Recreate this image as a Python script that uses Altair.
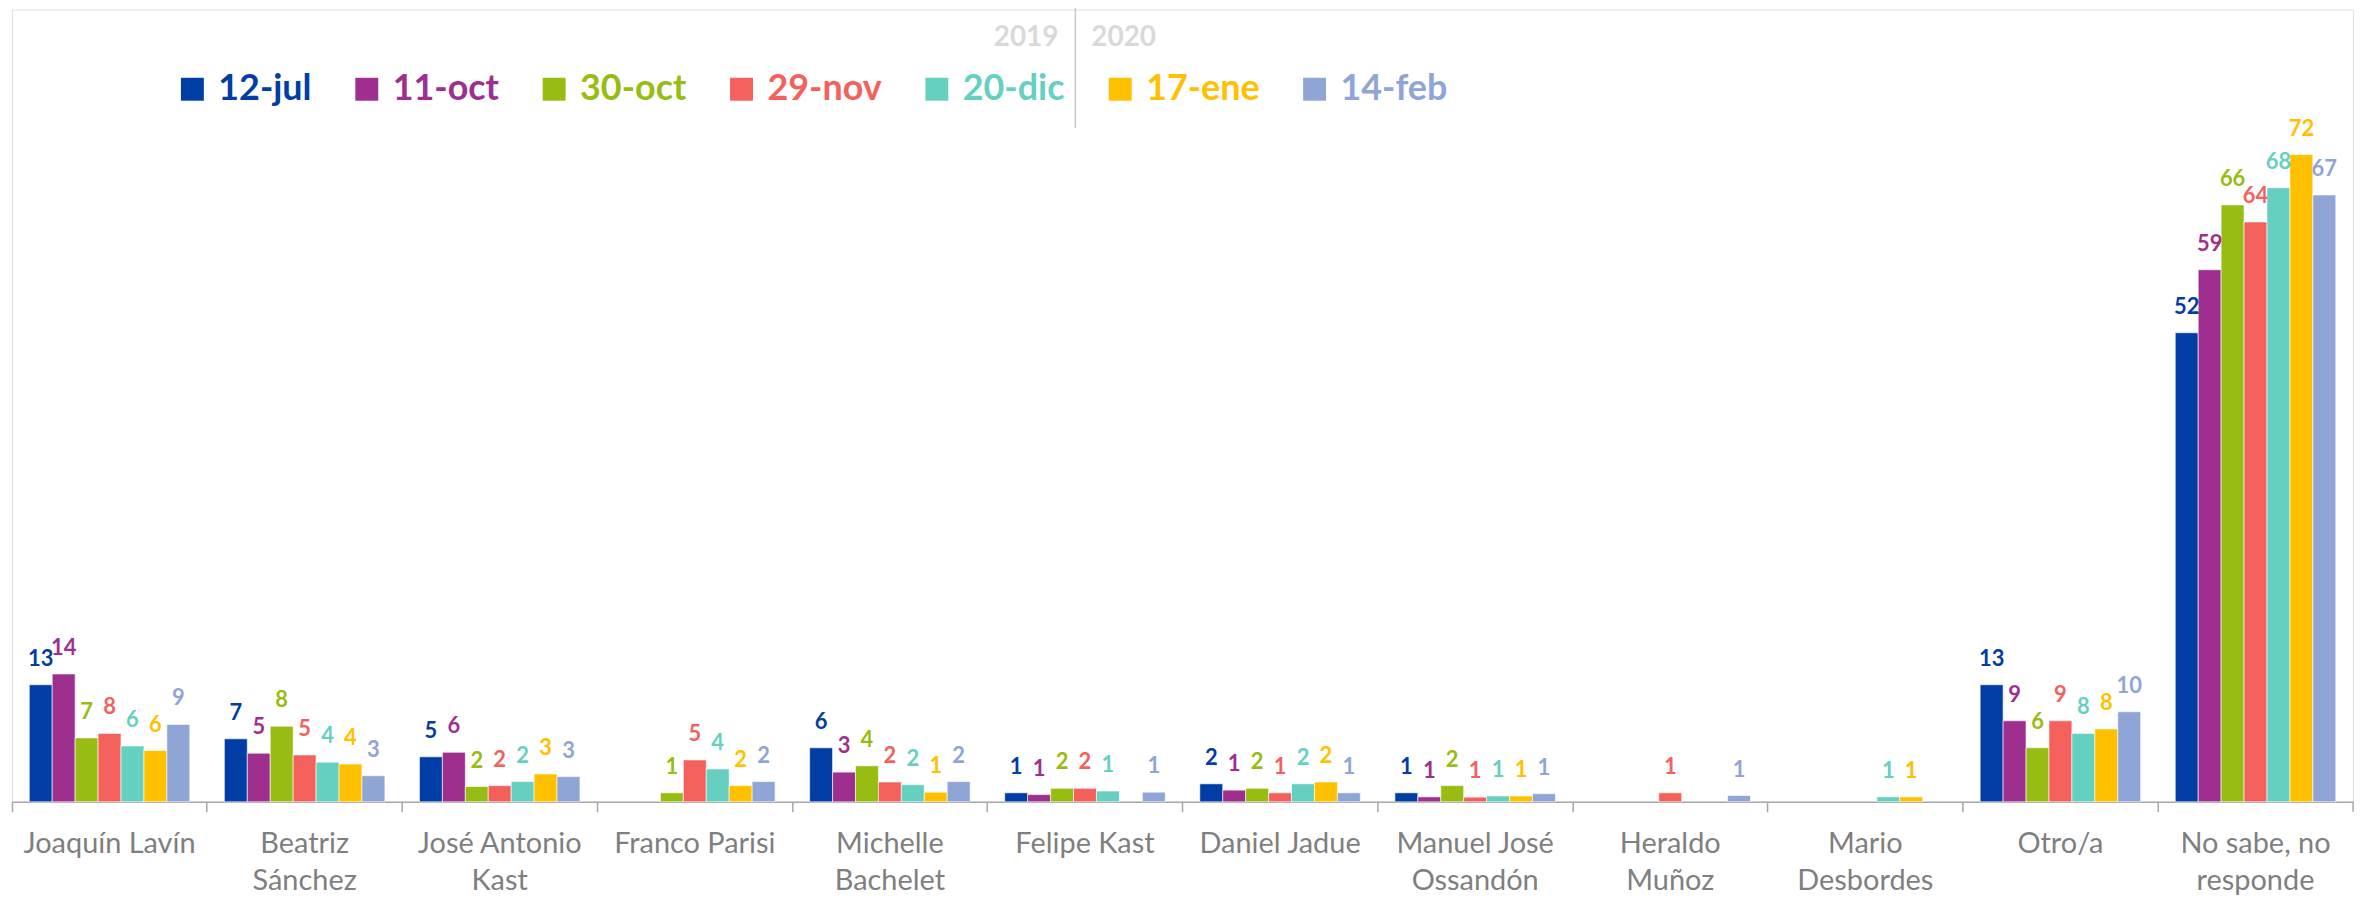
import json
import altair as alt
import pandas as pd

series = ["12-jul", "11-oct", "30-oct", "29-nov", "20-dic", "17-ene", "14-feb"]
colors = ["#003DA5", "#9E2F8E", "#97BC12", "#F4615D", "#66D0C0", "#FFC000", "#8FA5D6"]
categories = ["Joaquín Lavín", "Beatriz Sánchez", "José Antonio Kast", "Franco Parisi",
              "Michelle Bachelet", "Felipe Kast", "Daniel Jadue", "Manuel José Ossandón",
              "Heraldo Muñoz", "Mario Desbordes", "Otro/a", "No sabe, no responde"]
label_lines = {
    "Beatriz Sánchez": ["Beatriz", "Sánchez"],
    "José Antonio Kast": ["José Antonio", "Kast"],
    "Michelle Bachelet": ["Michelle", "Bachelet"],
    "Manuel José Ossandón": ["Manuel José", "Ossandón"],
    "Heraldo Muñoz": ["Heraldo", "Muñoz"],
    "Mario Desbordes": ["Mario", "Desbordes"],
    "No sabe, no responde": ["No sabe, no", "responde"],
}

v_12jul = [13.0, 7.0, 5.0, None, 6.0, 1.0, 2.0, 1.0, None, None, 13.0, 52.1]
v_11oct = [14.2, 5.4, 5.5, None, 3.3, 0.8, 1.3, 0.55, None, None, 9.0, 59.1]
v_30oct = [7.1, 8.4, 1.7, 1.0, 4.0, 1.5, 1.5, 1.8, None, None, 6.0, 66.3]
v_29nov = [7.6, 5.2, 1.8, 4.65, 2.2, 1.5, 1.0, 0.52, 1.0, None, 9.0, 64.4]
v_20dic = [6.2, 4.4, 2.25, 3.65, 1.9, 1.2, 2.0, 0.65, None, 0.55, 7.6, 68.2]
v_17ene = [5.7, 4.2, 3.1, 1.8, 1.07, None, 2.2, 0.65, None, 0.55, 8.1, 71.9]
v_14feb = [8.6, 2.9, 2.8, 2.25, 2.25, 1.07, 1.0, 0.9, 0.7, None, 10.0, 67.4]
all_values = [v_12jul, v_11oct, v_30oct, v_29nov, v_20dic, v_17ene, v_14feb]

years = ["2019", "2020"]

rows = []
for s, vals in zip(series, all_values):
    for c, v in zip(categories, vals):
        if v is not None:
            rows.append({"cat": c, "serie": s, "val": v})
df = pd.DataFrame(rows)

FONT = "Lato"
GREY = "#7F7F7F"
AXIS_GREY = "#A6A6A6"

expr = ""
for k, v in label_lines.items():
    expr += f"datum.label === {json.dumps(k, ensure_ascii=False)} ? {json.dumps(v, ensure_ascii=False)} : "
expr += "datum.label"

W, H = 2349, 795

base = alt.Chart(df).encode(
    x=alt.X("cat:N", sort=categories, title=None,
            scale=alt.Scale(paddingInner=0, paddingOuter=0),
            axis=alt.Axis(labelAngle=0, labelExpr=expr, labelFont=FONT, labelFontSize=29,
                          labelColor=GREY, labelLineHeight=37, labelPadding=18, labelLimit=0,
                          tickSize=10, tickColor=AXIS_GREY, tickWidth=1.5, bandPosition=0,
                          domainColor=AXIS_GREY, domainWidth=1.5, grid=False)),
    xOffset=alt.XOffset("serie:N", sort=series,
                        scale=alt.Scale(paddingOuter=0.754, paddingInner=0)),
    y=alt.Y("val:Q", scale=alt.Scale(domain=[0, 88], nice=False), axis=None),
    color=alt.Color("serie:N", sort=series,
                    scale=alt.Scale(domain=series, range=colors),
                    legend=alt.Legend(orient="none", legendX=163, legendY=62,
                                      direction="horizontal", title=None,
                                      symbolType="square", symbolSize=529,
                                      symbolStrokeWidth=0, symbolOpacity=1,
                                      labelFont=FONT, labelFontSize=36,
                                      labelFontWeight="bold",
                                      labelColor=alt.ExprRef("scale('color', datum.value)"),
                                      columnPadding=37, labelOffset=8, labelLimit=0,
                                      padding=0)),
)

bars = base.mark_bar(stroke="white", strokeWidth=1, strokeOpacity=0.6)
labels = base.mark_text(baseline="alphabetic", dy=-19, font=FONT, fontSize=22,
                        fontWeight="bold").encode(text=alt.Text("val:Q", format=".0f"))

end_tick = alt.Chart(pd.DataFrame({"k": [0]})).mark_rule(
    color=AXIS_GREY, strokeWidth=1.5).encode(
    x=alt.value(W), y=alt.value(H), y2=alt.value(H + 10))

divider = alt.Chart(pd.DataFrame({"k": [0]})).mark_rule(
    color="#C8C8C8", strokeWidth=1.5).encode(
    x=alt.value(1067), y=alt.value(-2), y2=alt.value(119))

y2019 = alt.Chart(pd.DataFrame({"t": [years[0]]})).mark_text(
    align="right", baseline="alphabetic", font=FONT, fontSize=28, fontWeight="bold",
    color="#D9D9D9").encode(x=alt.value(1050), y=alt.value(37), text="t:N")
y2020 = alt.Chart(pd.DataFrame({"t": [years[1]]})).mark_text(
    align="left", baseline="alphabetic", font=FONT, fontSize=28, fontWeight="bold",
    color="#D9D9D9").encode(x=alt.value(1083), y=alt.value(37), text="t:N")

chart = alt.layer(bars, labels, end_tick, divider, y2019, y2020).properties(
    width=W, height=H,
    padding={"left": 4, "top": 0, "right": 18, "bottom": 97},
    autosize=alt.AutoSizeParams(type="none"),
).configure_view(stroke=None).configure(background="white")

chart.save("out.html", embed_options={"renderer": "svg", "actions": False})
